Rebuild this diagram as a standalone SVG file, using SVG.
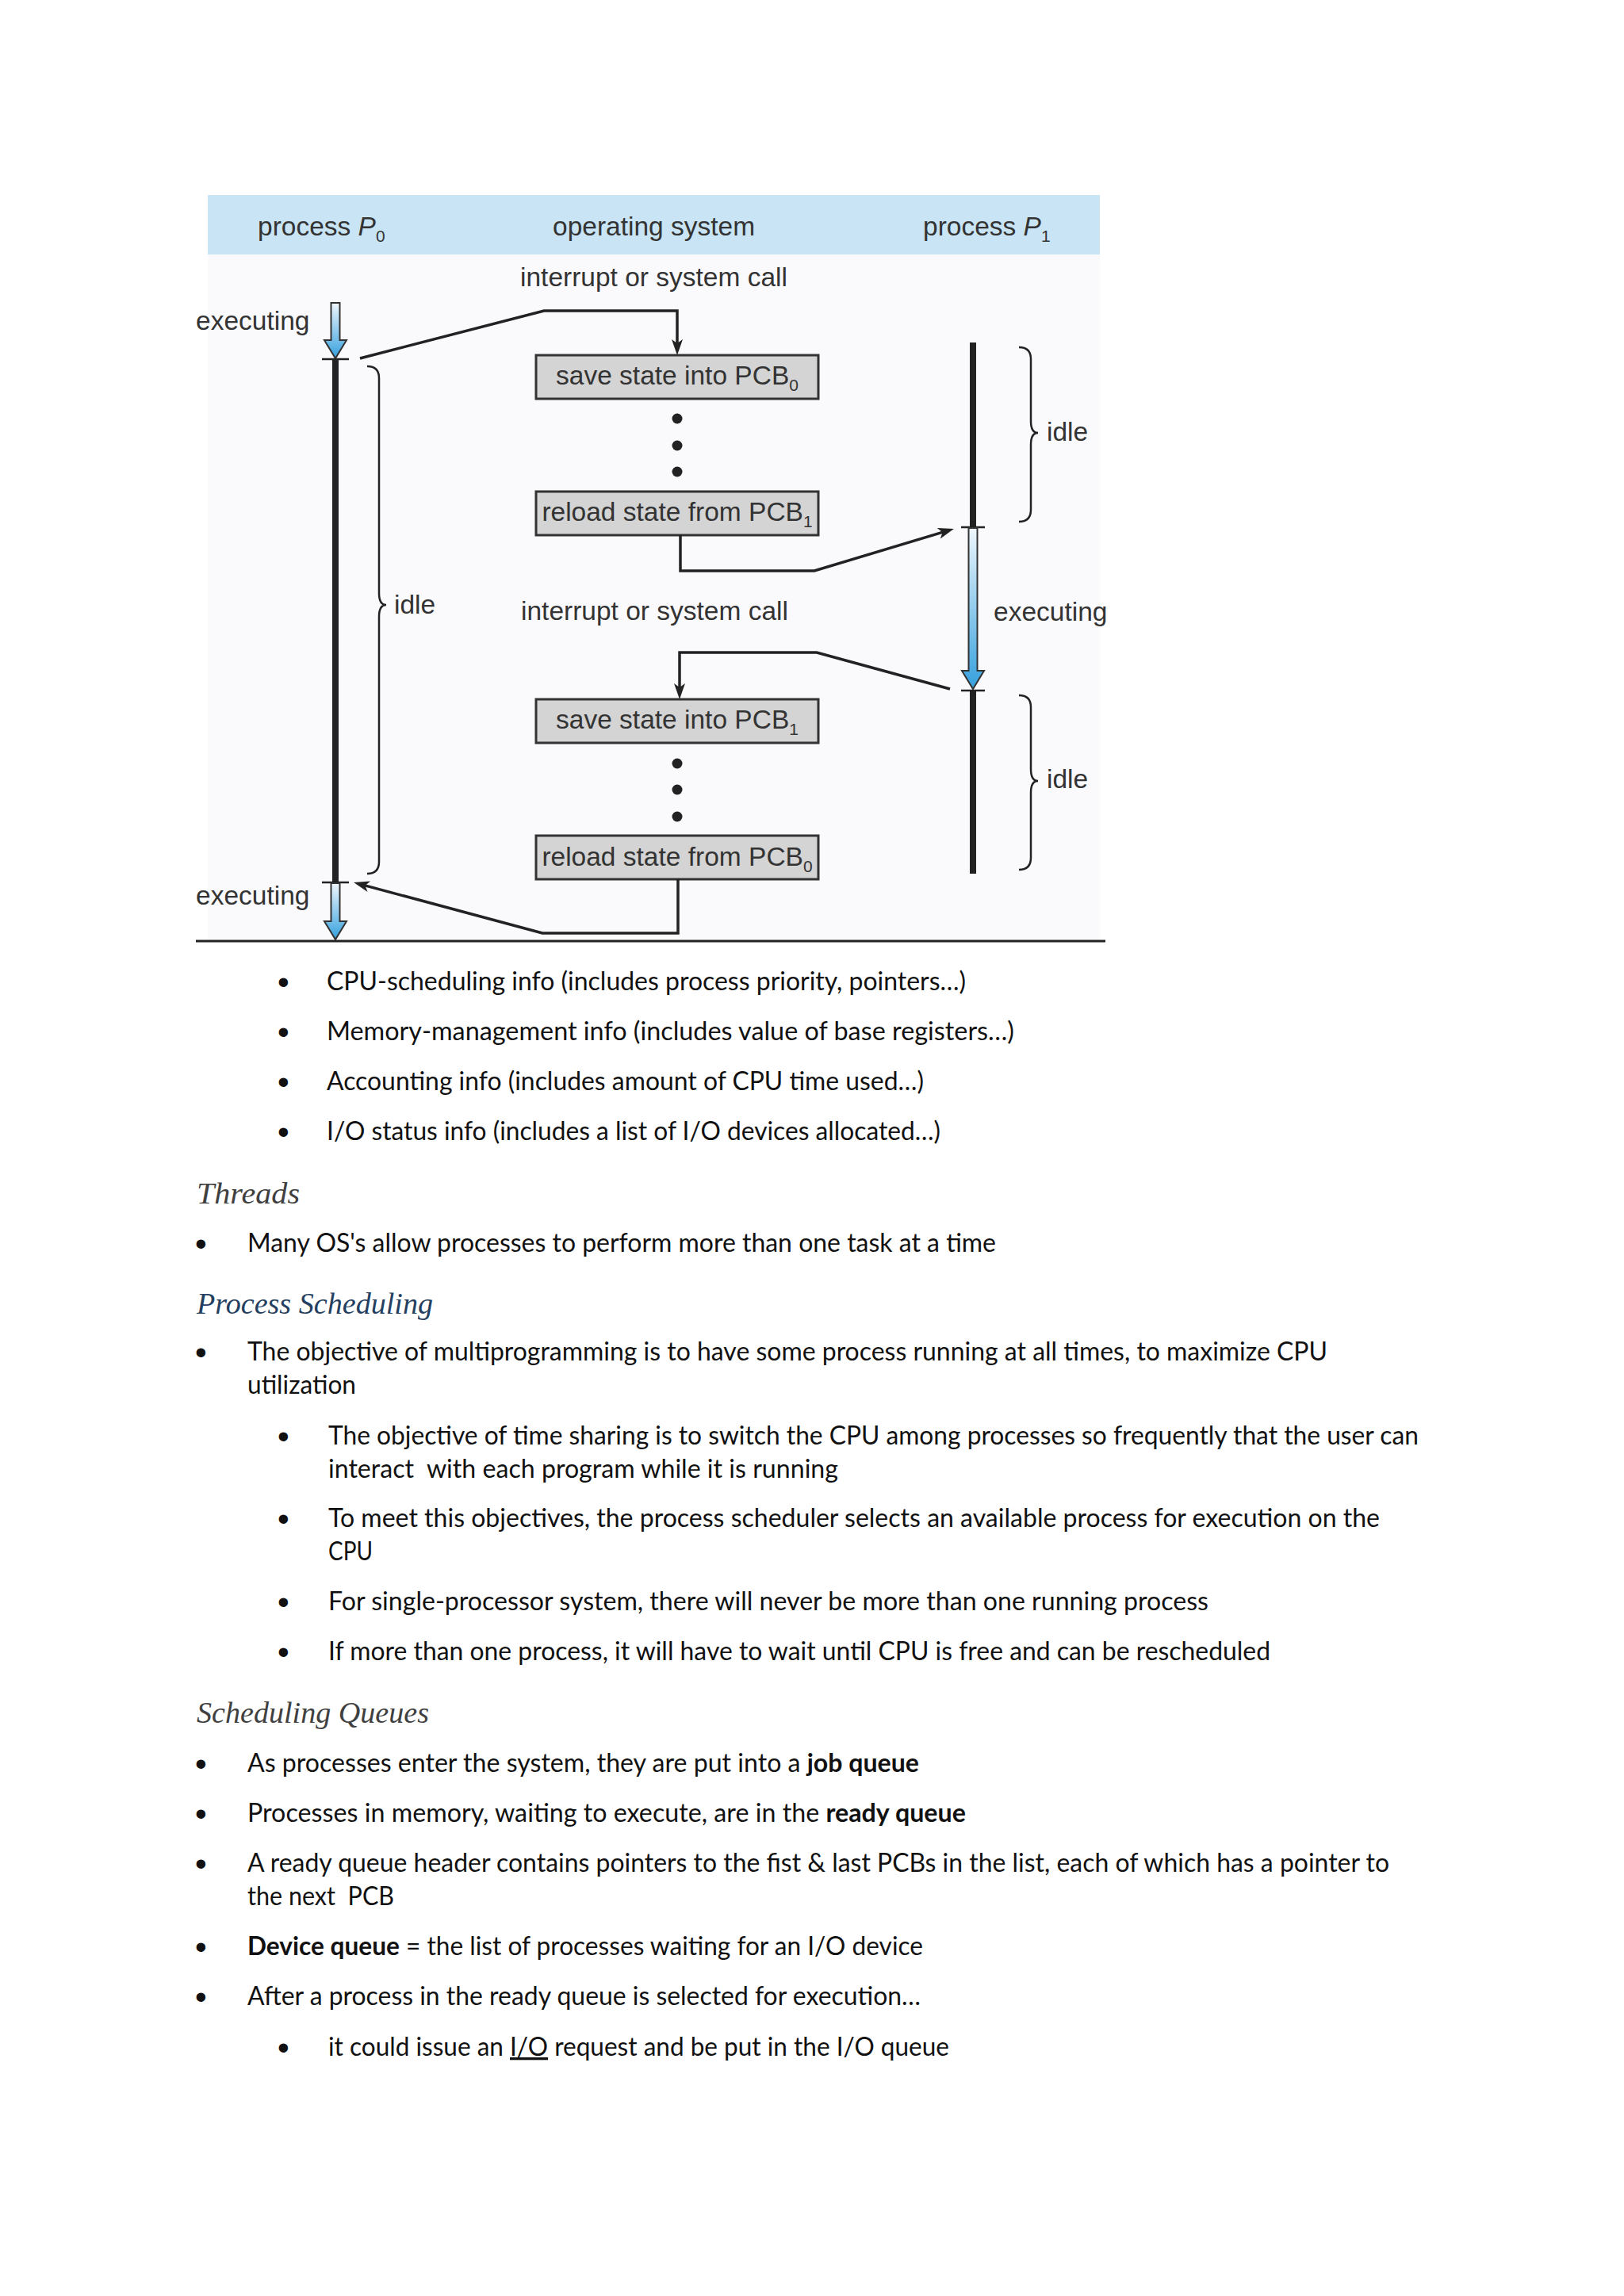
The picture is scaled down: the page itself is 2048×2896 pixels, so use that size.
<svg xmlns="http://www.w3.org/2000/svg" width="2048" height="2896" viewBox="0 0 2048 2896">
<defs>
<style>
.dg{font-family:"Liberation Sans",Arial,sans-serif;font-size:33.5px;fill:#333}
.sub{font-size:21px}
.bx{fill:#d4d4d4;stroke:#333;stroke-width:3}
.tl{stroke:#222;stroke-width:8;fill:none}
.tk{stroke:#222;stroke-width:2.5;fill:none}
.br{stroke:#222;stroke-width:2.5;fill:none}
.cn{stroke:#222;stroke-width:3.5;fill:none;stroke-linejoin:miter}
.ba{fill:url(#bg);stroke:#333;stroke-width:2}
.dot{fill:#222}
.b{font-family:Lato,"Open Sans",sans-serif;font-size:33px;fill:#111}
.bu{font-family:"Liberation Sans",Arial,sans-serif;font-size:42px;fill:#111}
.h{font-family:"Liberation Serif","Times New Roman",serif;font-style:italic;font-size:38px;fill:#404040}
.hb{fill:#243f60}
</style>
<linearGradient id="bg" x1="0" y1="0" x2="0" y2="1">
<stop offset="0" stop-color="#eef6fc"/>
<stop offset="1" stop-color="#35a0de"/>
</linearGradient>
<marker id="ah" markerUnits="userSpaceOnUse" markerWidth="22" markerHeight="16" viewBox="0 0 22 16" refX="10" refY="8" orient="auto">
<path d="M0,1 L20,8 L0,15 L5,8 z" fill="#222"/>
</marker>
</defs>
<rect width="2048" height="2896" fill="#ffffff"/>

<g id="diagram-background">
<rect x="262" y="321" width="1125" height="865" fill="#fafafd"/>
</g>

<g id="header">
<rect x="262" y="246" width="1125" height="75" fill="#c9e5f5"/>
<text class="dg" x="325" y="297">process <tspan font-style="italic">P</tspan><tspan class="sub" dy="8">0</tspan></text>
<text class="dg" x="697" y="297">operating system</text>
<text class="dg" x="1164" y="297">process <tspan font-style="italic">P</tspan><tspan class="sub" dy="8">1</tspan></text>
</g>

<g id="label-interrupt-1"><text class="dg" x="656" y="361">interrupt or system call</text></g>
<g id="label-interrupt-2"><text class="dg" x="657" y="782">interrupt or system call</text></g>

<g id="process-p0-timeline">
<path class="ba" d="M417.5,382 L428.5,382 L428.5,429 L437,429 L423,452 L409,429 L417.5,429 Z"/>
<line class="tk" x1="406" y1="453" x2="440" y2="453"/>
<line class="tl" x1="423" y1="453" x2="423" y2="1113"/>
<line class="tk" x1="406" y1="1113" x2="440" y2="1113"/>
<path class="ba" d="M417.5,1114 L428.5,1114 L428.5,1162 L437,1162 L423,1185 L409,1162 L417.5,1162 Z"/>
<path class="br" d="M463,462 Q478,462 478,477 L478,748 Q478,763 487,763 Q478,763 478,778 L478,1087 Q478,1102 463,1102"/>
<text class="dg" x="247" y="416">executing</text>
<text class="dg" x="497" y="774">idle</text>
<text class="dg" x="247" y="1141">executing</text>
</g>

<g id="process-p1-timeline">
<line class="tl" x1="1227" y1="432" x2="1227" y2="665"/>
<line class="tk" x1="1212" y1="665" x2="1242" y2="665"/>
<path class="ba" d="M1221.5,666 L1232.5,666 L1232.5,846 L1241,846 L1227,869 L1213,846 L1221.5,846 Z"/>
<line class="tk" x1="1212" y1="871" x2="1242" y2="871"/>
<line class="tl" x1="1227" y1="871" x2="1227" y2="1102"/>
<path class="br" d="M1285,438 Q1300,438 1300,453 L1300,531 Q1300,546 1309,546 Q1300,546 1300,561 L1300,643 Q1300,658 1285,658"/>
<path class="br" d="M1285,877 Q1300,877 1300,892 L1300,970 Q1300,985 1309,985 Q1300,985 1300,1000 L1300,1082 Q1300,1097 1285,1097"/>
<text class="dg" x="1320" y="556">idle</text>
<text class="dg" x="1253" y="783">executing</text>
<text class="dg" x="1320" y="994">idle</text>
</g>

<g id="box-save-pcb0">
<rect class="bx" x="676" y="448" width="356" height="55"/>
<text class="dg" x="854" y="485" text-anchor="middle">save state into PCB<tspan class="sub" dy="8">0</tspan></text>
</g>
<g id="dots-1">
<circle class="dot" cx="854" cy="528" r="6.5"/>
<circle class="dot" cx="854" cy="562" r="6.5"/>
<circle class="dot" cx="854" cy="595" r="6.5"/>
</g>
<g id="box-reload-pcb1">
<rect class="bx" x="676" y="620" width="356" height="55"/>
<text class="dg" x="854" y="657" text-anchor="middle">reload state from PCB<tspan class="sub" dy="8">1</tspan></text>
</g>
<g id="box-save-pcb1">
<rect class="bx" x="676" y="882" width="356" height="55"/>
<text class="dg" x="854" y="919" text-anchor="middle">save state into PCB<tspan class="sub" dy="8">1</tspan></text>
</g>
<g id="dots-2">
<circle class="dot" cx="854" cy="963" r="6.5"/>
<circle class="dot" cx="854" cy="996" r="6.5"/>
<circle class="dot" cx="854" cy="1030" r="6.5"/>
</g>
<g id="box-reload-pcb0">
<rect class="bx" x="676" y="1054" width="356" height="55"/>
<text class="dg" x="854" y="1092" text-anchor="middle">reload state from PCB<tspan class="sub" dy="8">0</tspan></text>
</g>

<g id="connectors">
<path class="cn" d="M454,452 L686,392 L854,392 L854,438" marker-end="url(#ah)"/>
<path class="cn" d="M858,675 L858,720 L1027,720 L1193.4,669.9" marker-end="url(#ah)"/>
<path class="cn" d="M1198,869 L1030,823 L857,823 L857,872" marker-end="url(#ah)"/>
<path class="cn" d="M855,1109 L855,1177 L684,1177 L455.7,1115.6" marker-end="url(#ah)"/>
</g>

<g id="baseline">
<line x1="247" y1="1187" x2="1394" y2="1187" stroke="#222" stroke-width="3"/>
</g>

<g id="text-pcb-list">
<text class="bu" x="350" y="1253">•</text>
<text class="b" x="412" y="1249" textLength="806" lengthAdjust="spacingAndGlyphs">CPU-scheduling info (includes process priority, pointers…)</text>
<text class="bu" x="350" y="1316">•</text>
<text class="b" x="412" y="1312" textLength="867" lengthAdjust="spacingAndGlyphs">Memory-management info (includes value of base registers…)</text>
<text class="bu" x="350" y="1379">•</text>
<text class="b" x="412" y="1375" textLength="753" lengthAdjust="spacingAndGlyphs">Accounting info (includes amount of CPU time used…)</text>
<text class="bu" x="350" y="1442">•</text>
<text class="b" x="412" y="1438" textLength="774" lengthAdjust="spacingAndGlyphs">I/O status info (includes a list of I/O devices allocated…)</text>
</g>

<g id="text-threads">
<text class="h" x="248" y="1518" textLength="130" lengthAdjust="spacingAndGlyphs">Threads</text>
<text class="bu" x="246" y="1583">•</text>
<text class="b" x="312" y="1579" textLength="944" lengthAdjust="spacingAndGlyphs">Many OS's allow processes to perform more than one task at a time</text>
</g>

<g id="text-process-scheduling">
<text class="h hb" x="248" y="1657" textLength="298" lengthAdjust="spacingAndGlyphs">Process Scheduling</text>
<text class="bu" x="246" y="1720">•</text>
<text class="b" x="312" y="1716" textLength="1362" lengthAdjust="spacingAndGlyphs">The objective of multiprogramming is to have some process running at all times, to maximize CPU</text>
<text class="b" x="312" y="1758" textLength="137" lengthAdjust="spacingAndGlyphs">utilization</text>
<text class="bu" x="350" y="1826">•</text>
<text class="b" x="414" y="1822" textLength="1375" lengthAdjust="spacingAndGlyphs">The objective of time sharing is to switch the CPU among processes so frequently that the user can</text>
<text class="b" x="414" y="1864" textLength="643" lengthAdjust="spacingAndGlyphs" xml:space="preserve">interact  with each program while it is running</text>
<text class="bu" x="350" y="1930">•</text>
<text class="b" x="414" y="1926" textLength="1326" lengthAdjust="spacingAndGlyphs">To meet this objectives, the process scheduler selects an available process for execution on the</text>
<text class="b" x="414" y="1968" textLength="56" lengthAdjust="spacingAndGlyphs">CPU</text>
<text class="bu" x="350" y="2035">•</text>
<text class="b" x="414" y="2031" textLength="1110" lengthAdjust="spacingAndGlyphs">For single-processor system, there will never be more than one running process</text>
<text class="bu" x="350" y="2098">•</text>
<text class="b" x="414" y="2094" textLength="1188" lengthAdjust="spacingAndGlyphs">If more than one process, it will have to wait until CPU is free and can be rescheduled</text>
</g>

<g id="text-scheduling-queues">
<text class="h" x="248" y="2173" textLength="293" lengthAdjust="spacingAndGlyphs">Scheduling Queues</text>
<text class="bu" x="246" y="2239">•</text>
<text class="b" x="312" y="2235" textLength="847" lengthAdjust="spacingAndGlyphs">As processes enter the system, they are put into a <tspan font-weight="bold">job queue</tspan></text>
<text class="bu" x="246" y="2302">•</text>
<text class="b" x="312" y="2298" textLength="906" lengthAdjust="spacingAndGlyphs">Processes in memory, waiting to execute, are in the <tspan font-weight="bold">ready queue</tspan></text>
<text class="bu" x="246" y="2365">•</text>
<text class="b" x="312" y="2361" textLength="1440" lengthAdjust="spacingAndGlyphs">A ready queue header contains pointers to the fist &amp; last PCBs in the list, each of which has a pointer to</text>
<text class="b" x="312" y="2403" textLength="185" lengthAdjust="spacingAndGlyphs" xml:space="preserve">the next  PCB</text>
<text class="bu" x="246" y="2470">•</text>
<text class="b" x="312" y="2466" textLength="852" lengthAdjust="spacingAndGlyphs"><tspan font-weight="bold">Device queue</tspan> = the list of processes waiting for an I/O device</text>
<text class="bu" x="246" y="2533">•</text>
<text class="b" x="312" y="2529" textLength="849" lengthAdjust="spacingAndGlyphs">After a process in the ready queue is selected for execution…</text>
<text class="bu" x="350" y="2597">•</text>
<text class="b" x="414" y="2593" textLength="783" lengthAdjust="spacingAndGlyphs">it could issue an <tspan text-decoration="underline">I/O</tspan> request and be put in the I/O queue</text>
</g>
</svg>
